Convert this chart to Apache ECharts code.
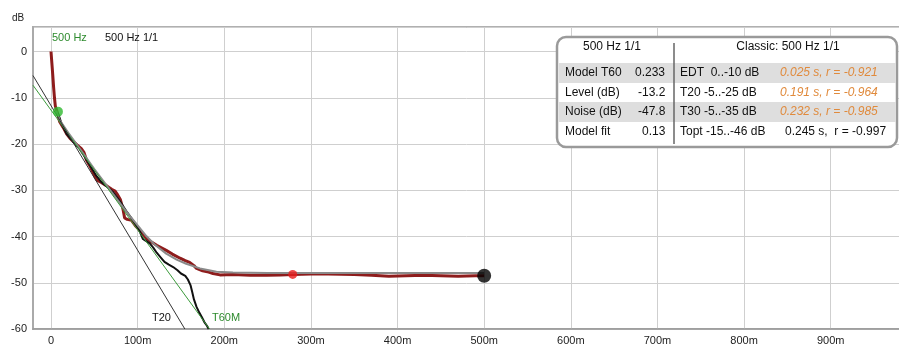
<!DOCTYPE html>
<html><head><meta charset="utf-8">
<script src="https://cdn.jsdelivr.net/npm/echarts@6/dist/echarts.min.js"></script>
<style>html,body{margin:0;padding:0;background:#fff}#c{width:899px;height:345px}</style>
</head><body><div id="c"></div>
<script>
// ---- data (x in ms, y in dB) ----
const xTickValues = [0,100,200,300,400,500,600,700,800,900];
const yTickValues = [0,-10,-20,-30,-40,-50,-60];
const edcRaw = [[0,0],[1,-2.5],[2,-5],[3,-7.7],[4,-10],[5,-11.8],[7,-13],[10,-15.2],[14,-16.4],[18,-17.8],[22,-18.8],[26,-19.5],[30,-20.2],[35,-21],[38,-21.8],[41,-23.5],[45,-24.8],[50,-26.8],[53,-27.8],[58,-28.3],[64,-29],[70,-29.8],[74,-30.2],[77,-31],[80,-32],[83,-34],[85,-36],[88,-36.3],[93,-36.5],[98,-37.8],[103,-38.8],[107,-39.7],[110,-40.4],[116,-41.2],[122,-41.9],[128,-42.5],[133,-43],[140,-43.8],[149,-44.7],[155,-45.2],[160,-45.6],[165,-46.3],[168,-46.9],[175,-47.4],[182,-47.7],[187,-48],[195,-48.3],[210,-48.2],[230,-48.4],[249,-48.4],[265,-48.3],[279,-48.2],[300,-48.1],[320,-48.1],[350,-48.2],[370,-48.4],[390,-48.6],[410,-48.5],[430,-48.4],[450,-48.5],[470,-48.6],[490,-48.5],[500,-48.5]];
const edcCompensated = [[8,-13.3],[12,-15.5],[18,-17.8],[25,-19.4],[32,-20.8],[38,-22.5],[45,-24.6],[52,-26.8],[58,-28.2],[65,-29.3],[72,-30.5],[80,-32.5],[88,-34.8],[95,-36.6],[102,-38.7],[106,-40.5],[110,-41],[114,-41.5],[118,-42.4],[122,-43.5],[127,-44.6],[131,-45.5],[136,-46.1],[141,-46.6],[146,-47.3],[150,-48],[155,-48.5],[158,-49.3],[161,-50.5],[163,-52],[165,-53.6],[168,-55.2],[171,-56.4],[174,-57.4],[177,-58.5],[180,-59.3],[182,-60]];
const modelCurve = [[6,-12.8],[10,-14.8],[20,-17.6],[30,-20.2],[40,-22.8],[50,-25.4],[60,-27.9],[70,-30.4],[80,-32.9],[90,-35.3],[100,-37.6],[110,-39.9],[120,-41.8],[133,-43.7],[145,-45],[156,-45.9],[172,-46.9],[191,-47.6],[210,-47.8],[250,-47.9],[350,-47.9],[500,-47.9]];
const t60mLine = [[-20.78,-7.3],[183,-60]];
const t20Line = [[-20.78,-5.2],[154.5,-60]];
const modelPoint = [[8,-13.0]];
const noisePoint = [[279,-48.2]];
const endPoint = [[500,-48.5]];
// ---- table texts ----
const tableHeaders = ['500 Hz 1/1','Classic: 500 Hz 1/1'];
const leftLabels = ['Model T60','Level (dB)','Noise (dB)','Model fit'];
const leftValues = ['0.233','-13.2','-47.8','0.13'];
const midLabels = ['EDT  0..-10 dB','T20 -5..-25 dB','T30 -5..-35 dB','Topt -15..-46 dB'];
const rightValues = ['0.025 s, r = -0.921','0.191 s, r = -0.964','0.232 s, r = -0.985','0.245 s,  r = -0.997'];
const rightItalic = [true,true,true,false];

const FONT = '"Liberation Sans", Arial, sans-serif';
const chart = echarts.init(document.getElementById('c'), null, {renderer:'canvas'});

const rowY = [73, 92.5, 112, 132];
const leftValX = [635, 638, 638, 642];
const tableEls = [
  {type:'rect', shape:{x:557,y:37,width:340,height:110,r:9}, style:{fill:'#fff',stroke:'#9a9a9a',lineWidth:2.5}, z:100},
  {type:'rect', shape:{x:559,y:63,width:337,height:20}, style:{fill:'#dedede'}, z:101},
  {type:'rect', shape:{x:559,y:102,width:337,height:20}, style:{fill:'#dedede'}, z:101},
  {type:'line', shape:{x1:674,y1:43,x2:674,y2:144}, style:{stroke:'#666',lineWidth:1.5}, z:102},
  {type:'text', style:{x:612,y:47,text:tableHeaders[0],font:'12px '+FONT,fill:'#111',align:'center',verticalAlign:'middle'}, z:103},
  {type:'text', style:{x:788,y:47,text:tableHeaders[1],font:'12px '+FONT,fill:'#111',align:'center',verticalAlign:'middle'}, z:103}
];
for (let i=0;i<4;i++){
  tableEls.push({type:'text', style:{x:565,y:rowY[i],text:leftLabels[i],font:'12px '+FONT,fill:'#111',verticalAlign:'middle'}, z:103});
  tableEls.push({type:'text', style:{x:leftValX[i],y:rowY[i],text:leftValues[i],font:'12px '+FONT,fill:'#111',verticalAlign:'middle'}, z:103});
  tableEls.push({type:'text', style:{x:680,y:rowY[i],text:midLabels[i],font:'12px '+FONT,fill:'#111',verticalAlign:'middle'}, z:103});
  tableEls.push({type:'text', style:{x: rightItalic[i]?780:785,y:rowY[i],text:rightValues[i],font:(rightItalic[i]?'italic ':'')+'12px '+FONT,fill:rightItalic[i]?'#e08a3c':'#111',verticalAlign:'middle'}, z:103});
}

const option = {
  animation:false,
  backgroundColor:'#fff',
  grid:{left:33, top:27, right:-3, bottom:16, show:true, borderColor:'#b0b0b0', borderWidth:2, containLabel:false, outerBoundsMode:'none'},
  xAxis:{type:'value', min:-20.78, max:982.3,
    axisLine:{show:true, onZero:false, lineStyle:{color:'#999',width:1.5}},
    axisTick:{show:false, customValues:xTickValues},
    axisLabel:{customValues:xTickValues, formatter:v=> v===0?'0':v+'m', color:'#222', fontSize:11, fontFamily:FONT, margin:6},
    splitLine:{show:true, lineStyle:{color:'#cfcfcf',width:1}}
  },
  yAxis:{type:'value', min:-60, max:5.3, interval:10,
    axisLine:{show:true, onZero:false, lineStyle:{color:'#aaa',width:2}},
    axisTick:{show:false},
    axisLabel:{formatter:v=> (Math.abs(v%10)<1e-6 ? String(v) : ''), color:'#222', fontSize:11, fontFamily:FONT, margin:6},
    splitLine:{show:true, lineStyle:{color:'#cfcfcf',width:1}}
  },
  graphic:[
    {type:'text', style:{x:12,y:18,text:'dB',font:'10px '+FONT,fill:'#222',verticalAlign:'middle'}},
    {type:'text', style:{x:52,y:38,text:'500 Hz',font:'11px '+FONT,fill:'#2e8b2e',verticalAlign:'middle'}, z:50},
    {type:'text', style:{x:105,y:38,text:'500 Hz 1/1',font:'11px '+FONT,fill:'#111',verticalAlign:'middle'}, z:50},
    {type:'text', style:{x:152,y:318,text:'T20',font:'11px '+FONT,fill:'#111',verticalAlign:'middle'}, z:50},
    {type:'text', style:{x:212,y:318,text:'T60M',font:'11px '+FONT,fill:'#2e8b2e',verticalAlign:'middle'}, z:50}
  ].concat(tableEls),
  series:[
    {type:'line', data:edcRaw, showSymbol:false, symbol:'none', lineStyle:{color:'#8e1c1c',width:3}, z:3},
    {type:'line', data:edcCompensated, showSymbol:false, symbol:'none', lineStyle:{color:'#111',width:2}, z:4},
    {type:'line', data:modelCurve, showSymbol:false, symbol:'none', lineStyle:{color:'#8a8a8a',width:2}, z:5},
    {type:'line', data:t60mLine, showSymbol:false, symbol:'none', lineStyle:{color:'#3a9a3a',width:1}, z:6},
    {type:'line', data:t20Line, showSymbol:false, symbol:'none', lineStyle:{color:'#333',width:1}, z:6},
    {type:'scatter', data:modelPoint, symbolSize:10, itemStyle:{color:'#2eb82e'}, z:8},
    {type:'scatter', data:noisePoint, symbolSize:9, itemStyle:{color:'#e81c1c'}, z:8},
    {type:'scatter', data:endPoint, symbolSize:14, itemStyle:{color:'#000'}, z:8}
  ]
};
chart.setOption(option);
</script></body></html>
